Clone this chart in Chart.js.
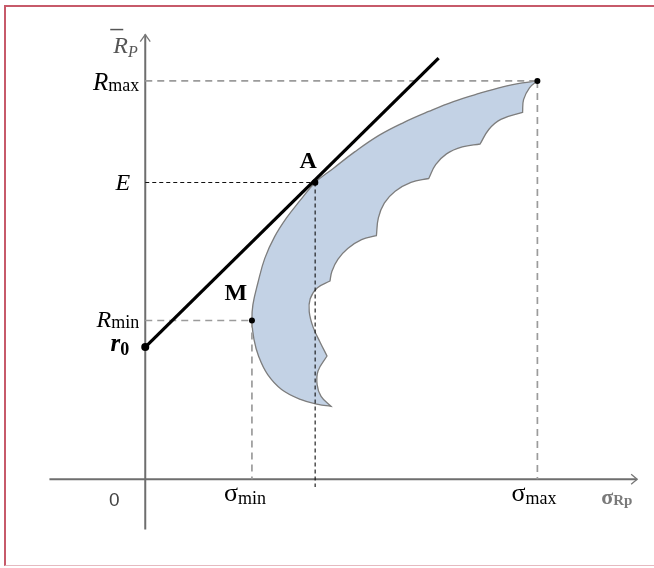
<!DOCTYPE html>
<html>
<head>
<meta charset="utf-8">
<script src="https://cdn.jsdelivr.net/npm/chart.js@4.4.1/dist/chart.umd.min.js"></script>
<style>
  html, body { margin: 0; padding: 0; background: #fff; }
  #wrap { position: relative; width: 654px; height: 568px; overflow: hidden; }
  #frame { position: absolute; left: 4px; top: 5px; width: 700px; height: 558px;
           border-top: 2px solid #c75a6a; border-left: 2px solid #c75a6a;
           border-bottom: 1px solid #e6b9c0; pointer-events: none; }
  canvas { position: absolute; left: 0; top: 0; }
</style>
</head>
<body>
<div id="wrap">
  <canvas id="chart" width="654" height="568"></canvas>
  <div id="frame"></div>
</div>
<script>
// axis ranges (sigma = horizontal, R = vertical)
const sigmaRange = [-14.3, 51.1];
const rRange = [-8.6, 48.2];
const axisSigma = [-9.7, 49.8];
const axisR = [-5.1, 45.1];

// feasible set: smooth outer edge from the top point down to the tip
const outerSigma = [39.7, 38.2, 36.2, 33.7, 31.2, 28.7, 26.2, 23.7, 21.2, 19.0, 17.2, 15.7, 14.3, 13.1, 12.1, 11.4, 10.9, 10.8, 11.0, 11.5, 12.4, 13.8, 15.7, 17.5, 18.8, 18.8];
const outerR     = [40.4, 40.2, 39.8, 39.1, 38.3, 37.3, 36.2, 34.9, 33.2, 31.5, 30.1, 28.3, 26.5, 24.6, 22.4, 19.9, 17.7, 16.1, 14.2, 12.4, 10.6, 9.1, 8.1, 7.6, 7.4, 7.4];
// scalloped inner edge back up (cusps listed twice so they stay sharp)
const innerSigma = [17.8, 17.4, 17.5, 18.4, 18.4, 17.7, 17.0, 16.6, 16.7, 17.4, 18.7, 18.7, 18.9, 19.5, 20.5, 21.9, 23.4, 23.4, 23.6, 24.2, 25.3, 26.9, 28.7, 28.7, 29.4, 30.5, 32.1, 33.9, 33.9, 34.8, 36.0, 38.2, 38.2, 38.3, 38.9, 39.7];
const innerR     = [8.4, 9.6, 11.0, 12.5, 12.5, 13.9, 15.4, 17.0, 18.3, 19.4, 20.1, 20.1, 21.1, 22.3, 23.4, 24.3, 24.7, 24.7, 26.5, 28.0, 29.2, 30.1, 30.5, 30.5, 31.9, 33.0, 33.7, 34.0, 34.0, 35.5, 36.5, 37.2, 37.2, 38.5, 39.7, 40.4];

// special points
const r0 = 13.4;
const sigmaMin = 10.8, rMin = 16.1;      // M
const sigmaA = 17.2, rE = 30.1;          // A
const sigmaMax = 39.7, rMax = 40.4;
const tangentEnd = [29.7, 42.7];
const eDrop = -0.8;                      // E dashed line runs a bit under the axis

const pts = (xs, ys) => xs.map((v, i) => ({ x: v, y: ys[i] }));

const grayDash = { borderColor: '#9b9b9b', borderWidth: 1.7, borderDash: [7, 5], pointRadius: 0, fill: false, order: 5 };
const blackDash = { borderColor: '#111', borderWidth: 1.1, borderDash: [4, 3], pointRadius: 0, fill: false, order: 4 };

const datasets = [
    {
        data: pts(outerSigma.concat(innerSigma), outerR.concat(innerR)),
        fill: 'shape',
        backgroundColor: 'rgb(195,210,229)',
        borderColor: '#7d7d7d',
        borderWidth: 1.3,
        tension: 0.4,
        pointRadius: 0,
        order: 10
    },
    { data: pts(axisSigma, [0, 0]), borderColor: '#6e6e6e', borderWidth: 2, pointRadius: 0, order: 9 },
    { data: pts([0, 0], axisR), borderColor: '#6e6e6e', borderWidth: 2, pointRadius: 0, order: 9 },
    { ...grayDash, data: pts([0, sigmaMax], [rMax, rMax]) },
    { ...grayDash, data: pts([sigmaMax, sigmaMax], [rMax, 0]) },
    { ...grayDash, data: pts([0, sigmaMin], [rMin, rMin]) },
    { ...grayDash, data: pts([sigmaMin, sigmaMin], [rMin, 0]) },
    { ...blackDash, data: pts([0, sigmaA], [rE, rE]) },
    { ...blackDash, data: pts([sigmaA, sigmaA], [rE, eDrop]) },
    { data: pts([0, tangentEnd[0]], [r0, tangentEnd[1]]), borderColor: '#000', borderWidth: 3.2, pointRadius: 0, order: 2 },
    {
        data: pts([0, sigmaMin, sigmaA, sigmaMax], [r0, rMin, rE, rMax]),
        showLine: false,
        pointRadius: [4, 3, 3.2, 3],
        pointBackgroundColor: '#000',
        pointBorderWidth: 0,
        order: 1
    }
];

function subText(ctx, main, sub, xPos, base, mainFont, subFont, drop, align) {
    ctx.font = mainFont;
    const w1 = ctx.measureText(main).width;
    ctx.font = subFont;
    const w2 = ctx.measureText(sub).width;
    const start = align === 'right' ? xPos - w1 - w2 : xPos;
    ctx.textAlign = 'left';
    ctx.font = mainFont;
    ctx.fillText(main, start, base);
    ctx.font = subFont;
    ctx.fillText(sub, start + w1, base + drop);
}

const labelPlugin = {
    id: 'labels',
    afterDatasetsDraw(chart) {
        const { ctx, scales: { x, y } } = chart;
        const px = v => x.getPixelForValue(v);
        const py = v => y.getPixelForValue(v);
        const serif = '"Liberation Serif", "Times New Roman", serif';
        ctx.save();
        ctx.textBaseline = 'alphabetic';

        // axis arrows
        ctx.strokeStyle = '#777';
        ctx.lineWidth = 1.3;
        const tx = px(0), ty = py(axisR[1]);
        ctx.beginPath();
        ctx.moveTo(tx - 5, ty + 7); ctx.lineTo(tx, ty); ctx.lineTo(tx + 5, ty + 7);
        ctx.stroke();
        const ax = px(axisSigma[1]), ay = py(0);
        ctx.beginPath();
        ctx.moveTo(ax - 6, ay - 5); ctx.lineTo(ax, ay); ctx.lineTo(ax - 6, ay + 5);
        ctx.stroke();

        // y axis name: R with bar, subscript P
        ctx.fillStyle = '#555';
        subText(ctx, 'R', 'P', px(0) - 32, py(axisR[1]) + 18, `italic 24px ${serif}`, `italic 16px ${serif}`, 4, 'left');
        ctx.strokeStyle = '#555';
        ctx.lineWidth = 1.5;
        ctx.beginPath();
        ctx.moveTo(px(0) - 35, py(axisR[1]) - 5); ctx.lineTo(px(0) - 22, py(axisR[1]) - 5);
        ctx.stroke();

        // y tick names
        ctx.fillStyle = '#000';
        const yl = px(0) - 6;
        subText(ctx, 'R', 'max', yl, py(rMax) + 9, `italic 25px ${serif}`, `18px ${serif}`, 1, 'right');
        ctx.font = `italic 24px ${serif}`;
        ctx.textAlign = 'right';
        ctx.fillText('E', yl - 9, py(rE) + 8);
        subText(ctx, 'R', 'min', yl, py(rMin) + 7, `italic 24px ${serif}`, `18px ${serif}`, 1, 'right');
        subText(ctx, 'r', '0', yl - 10, py(r0) + 4, `bold italic 25px ${serif}`, `bold 18px ${serif}`, 4, 'right');

        // point names
        ctx.textAlign = 'center';
        ctx.font = `bold 24px ${serif}`;
        ctx.fillText('A', px(sigmaA) - 7, py(rE) - 14);
        ctx.fillText('M', px(sigmaMin) - 16, py(rMin) - 20);

        // x tick names
        subText(ctx, '\u03c3', 'min', px(sigmaMin) - 28, py(0) + 22, `26px ${serif}`, `18px ${serif}`, 3, 'left');
        subText(ctx, '\u03c3', 'max', px(sigmaMax) - 26, py(0) + 22, `26px ${serif}`, `18px ${serif}`, 3, 'left');

        // origin and x axis name
        ctx.fillStyle = '#444';
        ctx.font = '19px "Liberation Sans", Arial, sans-serif';
        ctx.textAlign = 'center';
        ctx.fillText('0', px(0) - 31, py(0) + 27);
        ctx.fillStyle = '#7a7a7a';
        subText(ctx, '\u03c3', 'Rp', px(axisSigma[1]) - 36, py(0) + 25, `bold 22px ${serif}`, `bold 15px ${serif}`, 1, 'left');

        ctx.restore();
    }
};

new Chart(document.getElementById('chart'), {
    type: 'line',
    data: { datasets },
    options: {
        responsive: false,
        animation: false,
        devicePixelRatio: 1,
        layout: { padding: 0 },
        plugins: { legend: { display: false }, tooltip: { enabled: false } },
        scales: {
            x: { type: 'linear', min: sigmaRange[0], max: sigmaRange[1], display: false },
            y: { type: 'linear', min: rRange[0], max: rRange[1], display: false }
        }
    },
    plugins: [labelPlugin]
});
</script>
</body>
</html>
